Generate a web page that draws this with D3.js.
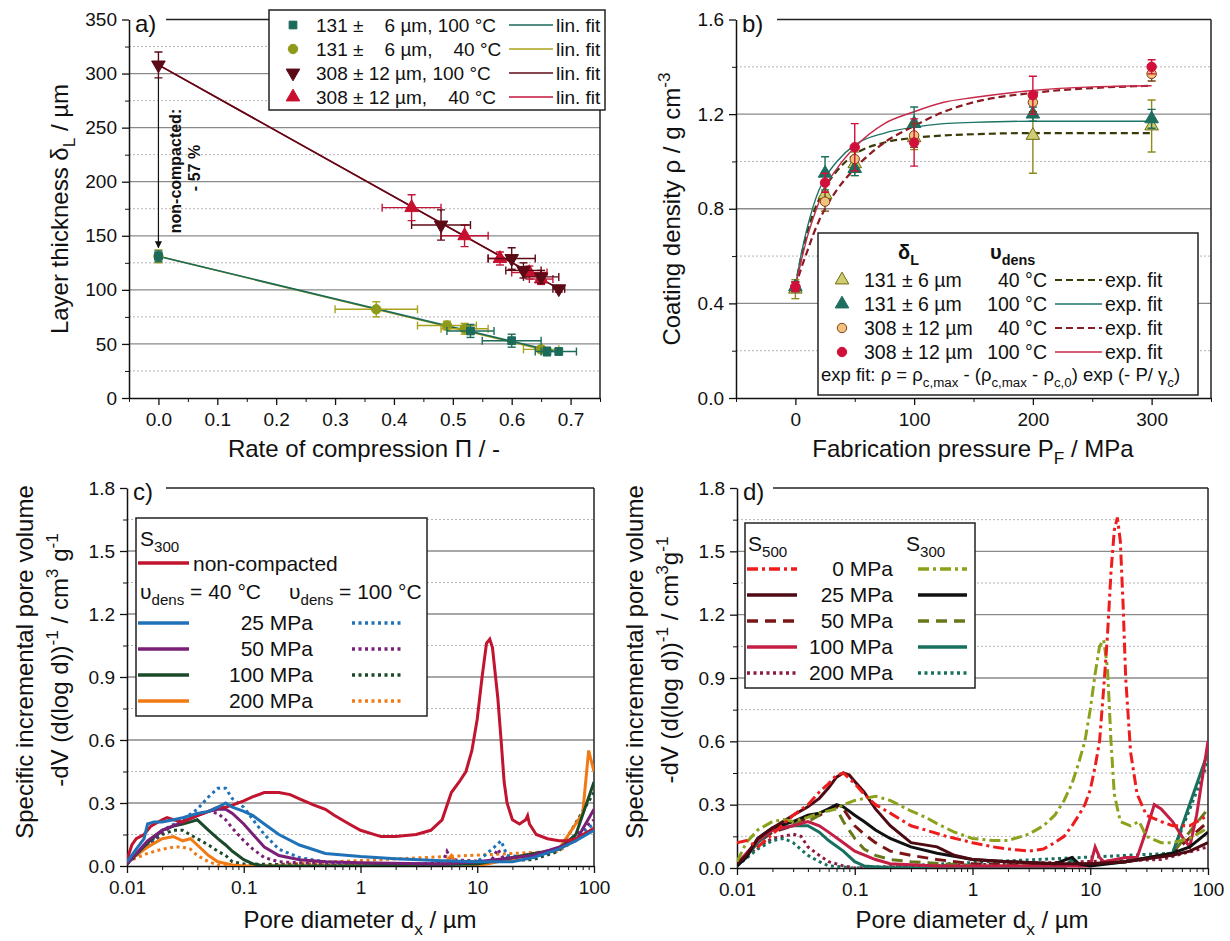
<!doctype html>
<html>
<head>
<meta charset="utf-8">
<style>
    body { margin: 0; background: #fff; }
    svg text { font-family: "Liberation Sans", Arial, sans-serif; fill: #111; }
    .axis path, .axis line { stroke: #111; }
    .axis text { font-size: 19px; fill: #111; font-family: "Liberation Sans", Arial, sans-serif; }
</style>
<script src="https://d3js.org/d3.v7.min.js"></script>
</head>
<body>
<script>
// ---------------- data: panel a (layer thickness vs rate of compression) ----------------
// rows: [Π, δL, xErr, yErr]
var a131hot  = [[0,131,0,5],[0.53,62,0.04,6],[0.60,53,0.05,6],[0.66,43,0.02,4],[0.68,43,0.03,3]];
var a131cold = [[0,131,0,6],[0.37,82,0.07,7],[0.49,67,0.05,4],[0.52,64,0.04,5],[0.65,45,0.03,3]];
var a308hot  = [[0,308,0,12],[0.48,160,0.05,14],[0.60,129,0.04,10],[0.62,118,0.03,7],[0.65,112,0.03,6],[0.68,101,0.01,3]];
var a308cold = [[0.43,176,0.05,12],[0.52,150,0.04,10],[0.58,129,0.02,6],[0.63,116,0.03,6],[0.65,110,0.02,5]];
var aFit131hot  = [[0,131],[0.68,42]];
var aFit131cold = [[0,131],[0.65,45]];
var aFit308hot  = [[0,308],[0.68,101]];
var aFit308cold = [[0,308],[0.65,110]];
var aYTicks = [0,50,100,150,200,250,300,350];
var aXTicks = [0,0.1,0.2,0.3,0.4,0.5,0.6,0.7];

// ---------------- data: panel b (coating density vs pressure) ----------------
var bP = [0,25,50,100,200,300];
var b131cold = [0.46,0.86,0.99,1.10,1.11,1.15], b131coldErr = [0.04,0.04,0.05,0.05,0.16,0.11];
var b131hot  = [0.47,0.95,0.97,1.16,1.20,1.18], b131hotErr  = [0.02,0.07,0.03,0.07,0.03,0.04];
var b308cold = [0.47,0.83,1.01,1.11,1.25,1.37], b308coldErr = [0.02,0.04,0.05,0.05,0.04,0.03];
var b308hot  = [0.47,0.91,1.06,1.08,1.28,1.40], b308hotErr  = [0.02,0.04,0.10,0.10,0.08,0.03];
var bFitP = [0,5,10,15,20,25,35,50,75,100,125,150,200,250,300];
var bFit131cold = [0.47,0.60,0.70,0.78,0.84,0.89,0.96,1.03,1.08,1.10,1.11,1.115,1.12,1.12,1.12];
var bFit131hot  = [0.47,0.61,0.72,0.81,0.88,0.93,1.00,1.07,1.12,1.145,1.16,1.165,1.17,1.17,1.17];
var bFit308cold = [0.47,0.55,0.62,0.69,0.75,0.80,0.88,0.97,1.08,1.15,1.21,1.25,1.29,1.31,1.32];
var bFit308hot  = [0.47,0.58,0.68,0.76,0.83,0.89,0.97,1.06,1.16,1.21,1.25,1.27,1.30,1.315,1.32];
var bYTicks = [0,0.4,0.8,1.2,1.6];
var bXTicks = [0,100,200,300];

// ---------------- data: panel c (S300 pore size distribution) ----------------
// rows: [pore diameter µm, -dV/dlogd]
var cNonComp = [[0.01,0.03],[0.011,0.10],[0.012,0.13],[0.014,0.15],[0.016,0.19],[0.02,0.22],[0.022,0.23],[0.025,0.22],[0.03,0.21],[0.04,0.24],[0.05,0.26],[0.06,0.28],[0.07,0.28],[0.08,0.29],[0.1,0.31],[0.12,0.33],[0.15,0.35],[0.2,0.35],[0.25,0.34],[0.3,0.32],[0.4,0.29],[0.5,0.27],[0.6,0.24],[0.8,0.20],[1,0.17],[1.5,0.14],[2,0.14],[3,0.15],[4,0.17],[5,0.22],[6,0.35],[7,0.40],[8,0.45],[9,0.55],[10,0.70],[11,0.90],[12,1.06],[12.8,1.08],[13.5,1.04],[15,0.80],[16,0.60],[17,0.40],[18,0.30],[20,0.22],[23,0.20],[26,0.22],[27,0.24],[28,0.20],[32,0.15],[40,0.13],[50,0.12],[60,0.12],[70,0.13],[100,0.18]];
var c25  = [[0.01,0.02],[0.012,0.08],[0.014,0.13],[0.015,0.20],[0.017,0.21],[0.02,0.21],[0.025,0.22],[0.03,0.23],[0.04,0.25],[0.05,0.26],[0.06,0.28],[0.07,0.30],[0.08,0.28],[0.1,0.26],[0.12,0.24],[0.15,0.20],[0.2,0.15],[0.3,0.10],[0.5,0.06],[1,0.045],[2,0.035],[5,0.025],[10,0.02],[20,0.02],[30,0.04],[50,0.08],[70,0.12],[100,0.17]];
var c25d = [[0.01,0.02],[0.015,0.10],[0.02,0.17],[0.03,0.22],[0.04,0.27],[0.05,0.33],[0.06,0.37],[0.07,0.37],[0.08,0.32],[0.1,0.28],[0.12,0.22],[0.15,0.15],[0.2,0.08],[0.3,0.04],[0.5,0.02],[1,0.01],[5,0.01],[10,0.02],[14,0.09],[16,0.12],[18,0.05],[30,0.04],[50,0.08],[100,0.20]];
var c50  = [[0.01,0.01],[0.015,0.12],[0.02,0.17],[0.03,0.21],[0.04,0.24],[0.05,0.26],[0.06,0.27],[0.07,0.27],[0.08,0.25],[0.1,0.20],[0.12,0.15],[0.15,0.09],[0.2,0.05],[0.3,0.03],[0.5,0.02],[1,0.015],[5,0.01],[10,0.02],[30,0.05],[50,0.09],[70,0.12],[100,0.27]];
var c50d = [[0.01,0.01],[0.015,0.10],[0.02,0.16],[0.03,0.22],[0.04,0.25],[0.05,0.26],[0.06,0.25],[0.07,0.22],[0.08,0.18],[0.1,0.12],[0.12,0.08],[0.15,0.04],[0.2,0.02],[0.5,0.01],[5,0.01],[5.5,0.07],[6,0.03],[13,0.02],[15,0.08],[17,0.03],[30,0.06],[50,0.08],[100,0.22]];
var c100  = [[0.01,0.01],[0.015,0.11],[0.02,0.17],[0.025,0.19],[0.03,0.20],[0.035,0.21],[0.04,0.22],[0.05,0.17],[0.06,0.13],[0.07,0.10],[0.08,0.07],[0.1,0.03],[0.12,0.01],[0.15,0.0],[1,0.0],[10,0.01],[50,0.08],[70,0.15],[100,0.40]];
var c100d = [[0.01,0.01],[0.015,0.10],[0.02,0.15],[0.025,0.17],[0.03,0.17],[0.04,0.13],[0.05,0.10],[0.06,0.07],[0.07,0.05],[0.08,0.02],[0.1,0.01],[1,0.0],[30,0.03],[50,0.07],[100,0.35]];
var c200  = [[0.01,0.03],[0.012,0.05],[0.015,0.09],[0.02,0.13],[0.025,0.14],[0.03,0.12],[0.035,0.13],[0.04,0.10],[0.05,0.05],[0.06,0.02],[0.08,0.005],[0.1,0.0],[5,0.0],[6,0.05],[6.5,0.02],[10,0.0],[50,0.08],[80,0.25],[90,0.55],[100,0.45]];
var c200d = [[0.01,0.02],[0.015,0.06],[0.02,0.08],[0.025,0.09],[0.03,0.09],[0.035,0.08],[0.04,0.05],[0.05,0.02],[0.06,0.005],[0.1,0.0],[50,0.07],[80,0.15],[100,0.17]];
var cdYTicks = [0,0.3,0.6,0.9,1.2,1.5,1.8];
var cdXTicks = [0.01,0.1,1,10,100];

// ---------------- data: panel d (S500 vs S300) ----------------
var d0s500 = [[0.01,0.12],[0.012,0.13],[0.015,0.10],[0.02,0.16],[0.03,0.25],[0.04,0.30],[0.05,0.36],[0.06,0.40],[0.07,0.44],[0.08,0.45],[0.1,0.40],[0.12,0.35],[0.15,0.30],[0.2,0.26],[0.3,0.20],[0.4,0.18],[0.6,0.15],[1,0.12],[1.5,0.10],[2,0.09],[3,0.08],[4,0.09],[5,0.12],[6,0.15],[7,0.20],[8,0.25],[9,0.30],[10,0.37],[11,0.48],[12,0.60],[13,0.85],[14,1.10],[15,1.40],[16,1.60],[17,1.66],[18,1.55],[19,1.25],[20,0.90],[22,0.55],[25,0.35],[30,0.25],[40,0.22],[50,0.20],[70,0.20],[100,0.25]];
var d0s300 = [[0.01,0.03],[0.012,0.12],[0.015,0.18],[0.02,0.22],[0.025,0.23],[0.03,0.22],[0.04,0.24],[0.05,0.26],[0.07,0.28],[0.08,0.30],[0.1,0.32],[0.15,0.34],[0.2,0.32],[0.3,0.27],[0.4,0.24],[0.5,0.21],[0.7,0.17],[1,0.14],[1.5,0.13],[2,0.13],[3,0.16],[4,0.20],[5,0.25],[6,0.32],[7,0.40],[8,0.50],[9,0.60],[10,0.75],[11,0.92],[12,1.05],[13,1.08],[14,0.95],[15,0.60],[16,0.35],[18,0.22],[22,0.20],[26,0.22],[30,0.15],[40,0.12],[50,0.12],[70,0.14],[100,0.19]];
var d25s500 = [[0.01,0.02],[0.012,0.06],[0.015,0.14],[0.02,0.19],[0.03,0.25],[0.04,0.29],[0.05,0.33],[0.06,0.38],[0.07,0.43],[0.08,0.45],[0.09,0.44],[0.1,0.41],[0.12,0.36],[0.15,0.28],[0.2,0.20],[0.3,0.12],[0.5,0.10],[0.7,0.06],[1,0.04],[2,0.03],[5,0.02],[10,0.02],[20,0.03],[50,0.06],[70,0.08],[100,0.12]];
var d25s300 = [[0.01,0.01],[0.012,0.05],[0.015,0.14],[0.02,0.19],[0.03,0.22],[0.04,0.25],[0.05,0.26],[0.06,0.28],[0.07,0.30],[0.08,0.29],[0.1,0.25],[0.12,0.22],[0.15,0.18],[0.2,0.14],[0.3,0.10],[0.5,0.07],[1,0.04],[2,0.03],[5,0.02],[7,0.05],[8,0.02],[10,0.01],[20,0.03],[50,0.07],[70,0.10],[100,0.17]];
var d50s500 = [[0.01,0.02],[0.015,0.12],[0.02,0.17],[0.03,0.20],[0.04,0.24],[0.05,0.25],[0.06,0.27],[0.07,0.29],[0.08,0.28],[0.1,0.20],[0.12,0.16],[0.15,0.12],[0.2,0.08],[0.3,0.06],[0.5,0.04],[1,0.02],[5,0.01],[20,0.03],[50,0.07],[100,0.22]];
var d50s300 = [[0.01,0.01],[0.015,0.12],[0.02,0.18],[0.03,0.21],[0.04,0.22],[0.05,0.25],[0.06,0.28],[0.07,0.28],[0.08,0.22],[0.1,0.14],[0.12,0.09],[0.15,0.06],[0.2,0.04],[0.3,0.03],[1,0.01],[5,0.01],[20,0.03],[50,0.07],[100,0.28]];
var d100s500 = [[0.01,0.02],[0.015,0.13],[0.02,0.18],[0.03,0.20],[0.04,0.22],[0.05,0.20],[0.06,0.17],[0.08,0.12],[0.1,0.08],[0.15,0.04],[0.2,0.02],[0.5,0.01],[5,0.01],[10,0.01],[11,0.10],[12,0.05],[13,0.03],[20,0.05],[25,0.05],[30,0.18],[35,0.30],[40,0.28],[50,0.22],[60,0.15],[70,0.10],[80,0.25],[100,0.60]];
var d100s300 = [[0.01,0.01],[0.015,0.12],[0.02,0.18],[0.03,0.20],[0.04,0.20],[0.05,0.17],[0.06,0.13],[0.08,0.08],[0.1,0.03],[0.12,0.01],[0.2,0.0],[6,0.0],[7,0.04],[8,0.01],[20,0.03],[50,0.07],[100,0.55]];
var d200s500 = [[0.01,0.02],[0.015,0.10],[0.02,0.14],[0.03,0.16],[0.035,0.15],[0.04,0.10],[0.05,0.06],[0.06,0.03],[0.08,0.01],[0.1,0.0],[40,0.04],[100,0.10]];
var d200s300 = [[0.01,0.01],[0.015,0.09],[0.02,0.13],[0.025,0.14],[0.03,0.12],[0.04,0.06],[0.05,0.03],[0.06,0.01],[0.1,0.0],[50,0.07],[100,0.50]];

// ---------------- helpers ----------------
var svg = d3.select("body").append("svg")
    .attr("width", 1230)
    .attr("height", 941);

// text with sub / superscripts: parts = ["plain", ["sub","L"], ["sup","-3"], ...]
function rich(t, parts, fs) {
    var shift = 0;
    parts.forEach(function(p) {
        var mode = typeof p === "string" ? "" : p[0];
        var s = typeof p === "string" ? p : p[1];
        var target = mode === "sub" ? fs * 0.3 : mode === "sup" ? -fs * 0.42 : 0;
        t.append("tspan")
            .attr("dy", target - shift)
            .style("font-size", (mode ? fs * 0.72 : fs) + "px")
            .text(s);
        shift = target;
    });
    return t;
}

function frame(cfg) {
    var g = svg.append("g");
    var L = cfg.box[0], R = cfg.box[1], T = cfg.box[2], B = cfg.box[3];
    var x = cfg.x, y = cfg.y;

    cfg.gridMinor.forEach(function(v) {
        g.append("line").attr("x1", L).attr("x2", R).attr("y1", y(v)).attr("y2", y(v))
            .attr("stroke", "#b5b5b5").attr("stroke-width", 1).attr("stroke-dasharray", "2,2");
    });
    cfg.gridMajor.forEach(function(v) {
        g.append("line").attr("x1", L).attr("x2", R).attr("y1", y(v)).attr("y2", y(v))
            .attr("stroke", "#8a8a8a").attr("stroke-width", 1.3);
    });

    // minor ticks
    g.append("g").attr("class", "axis").attr("transform", "translate(" + L + ",0)")
        .call(d3.axisLeft(y).tickValues(cfg.yMinor).tickSize(4).tickSizeOuter(0).tickFormat(""))
        .select(".domain").remove();
    g.append("g").attr("class", "axis").attr("transform", "translate(0," + B + ")")
        .call(d3.axisBottom(x).tickValues(cfg.xMinor).tickSize(4).tickSizeOuter(0).tickFormat(""))
        .select(".domain").remove();

    // main axes
    var ya = g.append("g").attr("class", "axis").attr("transform", "translate(" + L + ",0)")
        .call(d3.axisLeft(y).tickValues(cfg.yTicks).tickFormat(cfg.fmtY).tickSize(7).tickSizeOuter(0).tickPadding(5));
    var xa = g.append("g").attr("class", "axis").attr("transform", "translate(0," + B + ")")
        .call(d3.axisBottom(x).tickValues(cfg.xTicks).tickFormat(cfg.fmtX).tickSize(7).tickSizeOuter(0).tickPadding(8));
    [ya, xa].forEach(function(a) {
        a.select(".domain").attr("stroke-width", 1.5);
        a.selectAll(".tick line").attr("stroke-width", 1.3);
    });

    // top and right frame
    g.append("line").attr("x1", cfg.labelEnd).attr("x2", R).attr("y1", T).attr("y2", T)
        .attr("stroke", "#222").attr("stroke-width", 1.5);
    g.append("line").attr("x1", R).attr("x2", R).attr("y1", T).attr("y2", B)
        .attr("stroke", "#222").attr("stroke-width", 1.5);

    g.append("text").attr("x", L + 6).attr("y", T + 12)
        .style("font-size", "24px").text(cfg.label);

    var clipId = "clip" + cfg.label.charAt(0);
    svg.append("clipPath").attr("id", clipId)
        .append("rect").attr("x", L).attr("y", T).attr("width", R - L).attr("height", B - T);
    return svg.append("g").attr("clip-path", "url(#" + clipId + ")");
}

function ytitle(xpos, ypos, parts) {
    rich(svg.append("text")
        .attr("transform", "translate(" + xpos + "," + ypos + ") rotate(-90)")
        .attr("text-anchor", "middle"), parts, 24);
}
function xtitle(xpos, ypos, parts) {
    rich(svg.append("text").attr("x", xpos).attr("y", ypos)
        .attr("text-anchor", "middle"), parts, 24);
}

var sym = {
    square: d3.symbol().type(d3.symbolSquare).size(60)(),
    circle: d3.symbol().type(d3.symbolCircle).size(70)(),
    tri: d3.symbol().type(d3.symbolTriangle).size(80)()
};

function marker(g, px, py, shape, fill, stroke) {
    g.append("path").attr("d", shape === "down" ? sym.tri : sym[shape])
        .attr("transform", "translate(" + px + "," + py + ")" + (shape === "down" ? " rotate(180)" : ""))
        .attr("fill", fill).attr("stroke", stroke || fill).attr("stroke-width", 1);
}

// ======================= panel a =======================
var ax = d3.scaleLinear().domain([-0.05, 0.75]).range([129, 600]);
var ay = d3.scaleLinear().domain([0, 350]).range([398, 19.5]);
var ga = frame({
    x: ax, y: ay, box: [129, 600, 19.5, 398], label: "a)", labelEnd: 166,
    yTicks: aYTicks, yMinor: d3.range(25, 350, 50), xTicks: aXTicks, xMinor: d3.range(-0.05, 0.76, 0.1),
    gridMajor: [50, 100, 150, 200, 250, 300], gridMinor: d3.range(25, 350, 50),
    fmtY: d3.format("d"), fmtX: d3.format(".1f")
});
svg.select("clipPath#clipa rect").attr("x", 120).attr("width", 490);

var aSeries = [
    {pts: a131cold, fit: aFit131cold, color: "#a9a21b", shape: "circle", fill: "#8f9a1a"},
    {pts: a131hot,  fit: aFit131hot,  color: "#1b6a5a", shape: "square", fill: "#1b6a5a"},
    {pts: a308cold, fit: aFit308cold, color: "#c0163a", shape: "tri",    fill: "#c8102e"},
    {pts: a308hot,  fit: aFit308hot,  color: "#5c0a16", shape: "down",   fill: "#5c0a16"}
];
var aline = d3.line().x(function(d) { return ax(d[0]); }).y(function(d) { return ay(d[1]); });
aSeries.forEach(function(s) {
    ga.append("path").datum(s.fit).attr("d", aline)
        .attr("fill", "none").attr("stroke", s.color).attr("stroke-width", 1.6);
});
aSeries.forEach(function(s) {
    s.pts.forEach(function(p) {
        var cx = ax(p[0]), cy = ay(p[1]);
        var eb = ga.append("g").attr("stroke", s.color).attr("stroke-width", 1.4);
        if (p[3] > 0) {
            eb.append("line").attr("x1", cx).attr("x2", cx).attr("y1", ay(p[1] - p[3])).attr("y2", ay(p[1] + p[3]));
            eb.append("line").attr("x1", cx - 4).attr("x2", cx + 4).attr("y1", ay(p[1] - p[3])).attr("y2", ay(p[1] - p[3]));
            eb.append("line").attr("x1", cx - 4).attr("x2", cx + 4).attr("y1", ay(p[1] + p[3])).attr("y2", ay(p[1] + p[3]));
        }
        if (p[2] > 0) {
            eb.append("line").attr("y1", cy).attr("y2", cy).attr("x1", ax(p[0] - p[2])).attr("x2", ax(p[0] + p[2]));
            eb.append("line").attr("y1", cy - 4).attr("y2", cy + 4).attr("x1", ax(p[0] - p[2])).attr("x2", ax(p[0] - p[2]));
            eb.append("line").attr("y1", cy - 4).attr("y2", cy + 4).attr("x1", ax(p[0] + p[2])).attr("x2", ax(p[0] + p[2]));
        }
        marker(ga, cx, cy, s.shape, s.fill);
    });
});

// non-compacted arrow
svg.append("defs").append("marker").attr("id", "arr").attr("viewBox", "0 0 10 10")
    .attr("refX", 9).attr("refY", 5).attr("markerWidth", 6).attr("markerHeight", 6).attr("orient", "auto")
    .append("path").attr("d", "M0,0 L10,5 L0,10 z").attr("fill", "#111");
svg.append("line").attr("x1", ax(0)).attr("x2", ax(0)).attr("y1", ay(296)).attr("y2", ay(139))
    .attr("stroke", "#111").attr("stroke-width", 1.2).attr("marker-end", "url(#arr)");
svg.append("text").attr("transform", "translate(181,171) rotate(-90)").attr("text-anchor", "middle")
    .style("font-size", "16px").style("font-weight", "bold").text("non-compacted:");
svg.append("text").attr("transform", "translate(200,168) rotate(-90)").attr("text-anchor", "middle")
    .style("font-size", "16px").style("font-weight", "bold").text("- 57 %");

// legend a
var la = svg.append("g");
la.append("rect").attr("x", 269).attr("y", 10).attr("width", 336).attr("height", 100)
    .attr("fill", "#fff").attr("stroke", "#222").attr("stroke-width", 1.5);
var aLegText = ["131 \u00b1 \u2007 6 \u00b5m, 100 \u00b0C", "131 \u00b1 \u2007 6 \u00b5m, \u2007 40 \u00b0C",
                "308 \u00b1 12 \u00b5m, 100 \u00b0C", "308 \u00b1 12 \u00b5m, \u2007 40 \u00b0C"];
var aLegOrder = [aSeries[1], aSeries[0], aSeries[3], aSeries[2]];
aLegOrder.forEach(function(s, i) {
    var yy = 25 + i * 24;
    marker(la, 293, yy, s.shape, s.fill);
    la.append("text").attr("x", 316).attr("y", yy + 7).style("font-size", "19px").text(aLegText[i]);
    la.append("line").attr("x1", 509).attr("x2", 553).attr("y1", yy).attr("y2", yy)
        .attr("stroke", s.color).attr("stroke-width", 1.6);
    la.append("text").attr("x", 556).attr("y", yy + 7).style("font-size", "19px").text("lin. fit");
});

ytitle(68, 209, ["Layer thickness \u03b4", ["sub", "L"], " / \u00b5m"]);
xtitle(364, 457, ["Rate of compression \u03a0 / -"]);

// ======================= panel b =======================
var bx = d3.scaleLinear().domain([-50, 350]).range([736, 1211]);
var by = d3.scaleLinear().domain([0, 1.6]).range([398, 19.5]);
var gb = frame({
    x: bx, y: by, box: [736, 1211, 19.5, 398], label: "b)", labelEnd: 777,
    yTicks: bYTicks, yMinor: [0.2, 0.6, 1.0, 1.4], xTicks: bXTicks, xMinor: [-50, 50, 150, 250, 350],
    gridMajor: [0.4, 0.8, 1.2], gridMinor: [0.2, 0.6, 1.0, 1.4],
    fmtY: d3.format(".1f"), fmtX: d3.format("d")
});
var bSeries = [
    {v: b131cold, e: b131coldErr, fit: bFit131cold, ec: "#8c8a1a", lc: "#3a3a08", dash: "7,4", shape: "tri", fill: "#cfcd72", stroke: "#6d6a10"},
    {v: b131hot,  e: b131hotErr,  fit: bFit131hot,  ec: "#1d6e5e", lc: "#1d7466", dash: null, shape: "tri", fill: "#1d6e5e", stroke: "#1d6e5e"},
    {v: b308cold, e: b308coldErr, fit: bFit308cold, ec: "#7a3d12", lc: "#8b1a22", dash: "7,4", shape: "circle", fill: "#f1c27c", stroke: "#7a3d12"},
    {v: b308hot,  e: b308hotErr,  fit: bFit308hot,  ec: "#d0103a", lc: "#c8284a", dash: null, shape: "circle", fill: "#d0103a", stroke: "#d0103a"}
];
var bline = d3.line().curve(d3.curveMonotoneX)
    .x(function(d, i) { return bx(bFitP[i]); }).y(function(d) { return by(d); });
bSeries.forEach(function(s) {
    gb.append("path").datum(s.fit).attr("d", bline).attr("fill", "none")
        .attr("stroke", s.lc).attr("stroke-width", s.dash ? 2.2 : 1.4)
        .attr("stroke-dasharray", s.dash);
});
bSeries.forEach(function(s) {
    bP.forEach(function(p, i) {
        var cx = bx(p), hi = by(s.v[i] + s.e[i]), lo = by(s.v[i] - s.e[i]);
        var eb = gb.append("g").attr("stroke", s.ec).attr("stroke-width", 1.4);
        eb.append("line").attr("x1", cx).attr("x2", cx).attr("y1", hi).attr("y2", lo);
        eb.append("line").attr("x1", cx - 4).attr("x2", cx + 4).attr("y1", hi).attr("y2", hi);
        eb.append("line").attr("x1", cx - 4).attr("x2", cx + 4).attr("y1", lo).attr("y2", lo);
        marker(gb, cx, by(s.v[i]), s.shape, s.fill, s.stroke);
    });
});

// legend b
var lb = svg.append("g");
lb.append("rect").attr("x", 818).attr("y", 233).attr("width", 380).attr("height", 162)
    .attr("fill", "#fff").attr("stroke", "#222").attr("stroke-width", 1.5);
rich(lb.append("text").attr("x", 898).attr("y", 259).style("font-weight", "bold"), ["\u03b4", ["sub", "L"]], 20);
rich(lb.append("text").attr("x", 990).attr("y", 259).style("font-weight", "bold"), ["\u03c5", ["sub", "dens"]], 20);
var bLegSize = ["131 \u00b1 6 \u00b5m", "131 \u00b1 6 \u00b5m", "308 \u00b1 12 \u00b5m", "308 \u00b1 12 \u00b5m"];
var bLegTemp = ["40 \u00b0C", "100 \u00b0C", "40 \u00b0C", "100 \u00b0C"];
bSeries.forEach(function(s, i) {
    var yy = 280 + i * 24;
    marker(lb, 842, yy, s.shape, s.fill, s.stroke);
    lb.append("text").attr("x", 864).attr("y", yy + 7).style("font-size", "19.5px").text(bLegSize[i]);
    lb.append("text").attr("x", 1047).attr("y", yy + 7).attr("text-anchor", "end").style("font-size", "19.5px").text(bLegTemp[i]);
    lb.append("line").attr("x1", 1055).attr("x2", 1102).attr("y1", yy).attr("y2", yy)
        .attr("stroke", s.lc).attr("stroke-width", s.dash ? 2.2 : 1.4).attr("stroke-dasharray", s.dash);
    lb.append("text").attr("x", 1105).attr("y", yy + 7).style("font-size", "19.5px").text("exp. fit");
});
rich(lb.append("text").attr("x", 821).attr("y", 381),
    ["exp fit: \u03c1 = \u03c1", ["sub", "c,max"], " - (\u03c1", ["sub", "c,max"], " - \u03c1", ["sub", "c,0"],
     ") exp (- P/ \u03b3", ["sub", "c"], ")"], 18.5);

ytitle(680, 209, ["Coating density \u03c1 / g cm", ["sup", "-3"]]);
xtitle(973, 457, ["Fabrication pressure P", ["sub", "F"], " / MPa"]);

// ======================= panel c & d shared =======================
function logMinor() {
    var m = [];
    [0.01, 0.1, 1, 10].forEach(function(b) { for (var k = 2; k <= 9; k++) m.push(b * k); });
    return m;
}
function pores(box, label, labelEnd) {
    var x = d3.scaleLog().domain([0.01, 100]).range([box[0], box[1]]);
    var y = d3.scaleLinear().domain([0, 1.8]).range([box[3], box[2]]);
    var g = frame({
        x: x, y: y, box: box, label: label, labelEnd: labelEnd,
        yTicks: cdYTicks, yMinor: [0.15, 0.45, 0.75, 1.05, 1.35, 1.65], xTicks: cdXTicks, xMinor: logMinor(),
        gridMajor: [0.3, 0.6, 0.9, 1.2, 1.5], gridMinor: [0.15, 0.45, 0.75, 1.05, 1.35, 1.65],
        fmtY: d3.format(".1f"), fmtX: function(d) { return String(d); }
    });
    return {g: g, line: d3.line().x(function(d) { return x(d[0]); }).y(function(d) { return y(d[1]); })};
}
var DOT = "3,3.5", DASHDOT = "11,4,3,4", DASH = "11,7";

// ======================= panel c =======================
var pc = pores([127, 594, 488, 866], "c)", 166);
var cSeries = [
    {d: c200d, c: "#f27a14", dash: DOT}, {d: c100d, c: "#1b4a2b", dash: DOT},
    {d: c50d, c: "#7a1f78", dash: DOT}, {d: c25d, c: "#1f72b8", dash: DOT},
    {d: c200, c: "#f27a14"}, {d: c100, c: "#1b4a2b"}, {d: c50, c: "#7a1f78"},
    {d: cNonComp, c: "#c0142f"}, {d: c25, c: "#1f72b8"}
];
cSeries.forEach(function(s) {
    pc.g.append("path").datum(s.d).attr("d", pc.line).attr("fill", "none")
        .attr("stroke", s.c).attr("stroke-width", 3).attr("stroke-dasharray", s.dash || null);
});

var lc = svg.append("g");
lc.append("rect").attr("x", 136).attr("y", 518).attr("width", 291).attr("height", 198)
    .attr("fill", "#fff").attr("stroke", "#222").attr("stroke-width", 1.5);
rich(lc.append("text").attr("x", 140).attr("y", 546), ["S", ["sub", "300"]], 21);
lc.append("line").attr("x1", 138).attr("x2", 189).attr("y1", 563).attr("y2", 563).attr("stroke", "#c0142f").attr("stroke-width", 3.5);
lc.append("text").attr("x", 193).attr("y", 571).style("font-size", "21px").text("non-compacted");
rich(lc.append("text").attr("x", 140).attr("y", 599), ["\u03c5", ["sub", "dens"], " = 40 \u00b0C"], 21);
rich(lc.append("text").attr("x", 289).attr("y", 599), ["\u03c5", ["sub", "dens"], " = 100 \u00b0C"], 21);
var cLegLab = ["25 MPa", "50 MPa", "100 MPa", "200 MPa"];
var cLegCol = ["#1f72b8", "#7a1f78", "#1b4a2b", "#f27a14"];
cLegLab.forEach(function(t, i) {
    var yy = 623 + i * 26;
    lc.append("line").attr("x1", 138).attr("x2", 189).attr("y1", yy).attr("y2", yy).attr("stroke", cLegCol[i]).attr("stroke-width", 3.5);
    lc.append("text").attr("x", 313).attr("y", yy + 7).attr("text-anchor", "end").style("font-size", "21px").text(t);
    lc.append("line").attr("x1", 352).attr("x2", 401).attr("y1", yy).attr("y2", yy).attr("stroke", cLegCol[i])
        .attr("stroke-width", 3.5).attr("stroke-dasharray", DOT);
});

ytitle(33, 662, ["Specific incremental pore volume"]);
ytitle(68, 660, ["-dV (d(log d))", ["sup", "-1"], " / cm", ["sup", "3"], " g", ["sup", "-1"]]);
xtitle(360, 928, ["Pore diameter d", ["sub", "x"], " / \u00b5m"]);

// ======================= panel d =======================
var pd = pores([737, 1208, 488, 868], "d)", 773);
var dSeries = [
    {d: d200s500, c: "#8e1a3c", dash: DOT}, {d: d200s300, c: "#17705e", dash: DOT},
    {d: d50s500, c: "#7b1616", dash: DASH}, {d: d50s300, c: "#66781a", dash: DASH},
    {d: d100s300, c: "#17705e"}, {d: d100s500, c: "#c41e45"},
    {d: d25s300, c: "#111111"}, {d: d25s500, c: "#4d0a12"},
    {d: d0s300, c: "#8ca21c", dash: DASHDOT}, {d: d0s500, c: "#ee1c1c", dash: DASHDOT}
];
dSeries.forEach(function(s) {
    pd.g.append("path").datum(s.d).attr("d", pd.line).attr("fill", "none")
        .attr("stroke", s.c).attr("stroke-width", 3).attr("stroke-dasharray", s.dash || null);
});

var ld = svg.append("g");
ld.append("rect").attr("x", 745).attr("y", 523).attr("width", 230).attr("height", 165)
    .attr("fill", "#fff").attr("stroke", "#222").attr("stroke-width", 1.5);
rich(ld.append("text").attr("x", 748).attr("y", 551), ["S", ["sub", "500"]], 21);
rich(ld.append("text").attr("x", 906).attr("y", 551), ["S", ["sub", "300"]], 21);
var dLegLab = ["0 MPa", "25 MPa", "50 MPa", "100 MPa", "200 MPa"];
var dLegL = [["#ee1c1c", DASHDOT], ["#4d0a12", null], ["#7b1616", DASH], ["#c41e45", null], ["#8e1a3c", DOT]];
var dLegR = [["#8ca21c", DASHDOT], ["#111111", null], ["#66781a", DASH], ["#17705e", null], ["#17705e", DOT]];
dLegLab.forEach(function(t, i) {
    var yy = 569 + i * 26;
    ld.append("line").attr("x1", 747).attr("x2", 797).attr("y1", yy).attr("y2", yy)
        .attr("stroke", dLegL[i][0]).attr("stroke-width", 3.5).attr("stroke-dasharray", dLegL[i][1]);
    ld.append("text").attr("x", 893).attr("y", yy + 7).attr("text-anchor", "end").style("font-size", "21px").text(t);
    ld.append("line").attr("x1", 918).attr("x2", 967).attr("y1", yy).attr("y2", yy)
        .attr("stroke", dLegR[i][0]).attr("stroke-width", 3.5).attr("stroke-dasharray", dLegR[i][1]);
});

ytitle(643, 662, ["Specific incremental pore volume"]);
ytitle(678, 660, ["-dV (d(log d))", ["sup", "-1"], " / cm", ["sup", "3"], "g", ["sup", "-1"]]);
xtitle(972, 928, ["Pore diameter d", ["sub", "x"], " / \u00b5m"]);
</script>
</body>
</html>
